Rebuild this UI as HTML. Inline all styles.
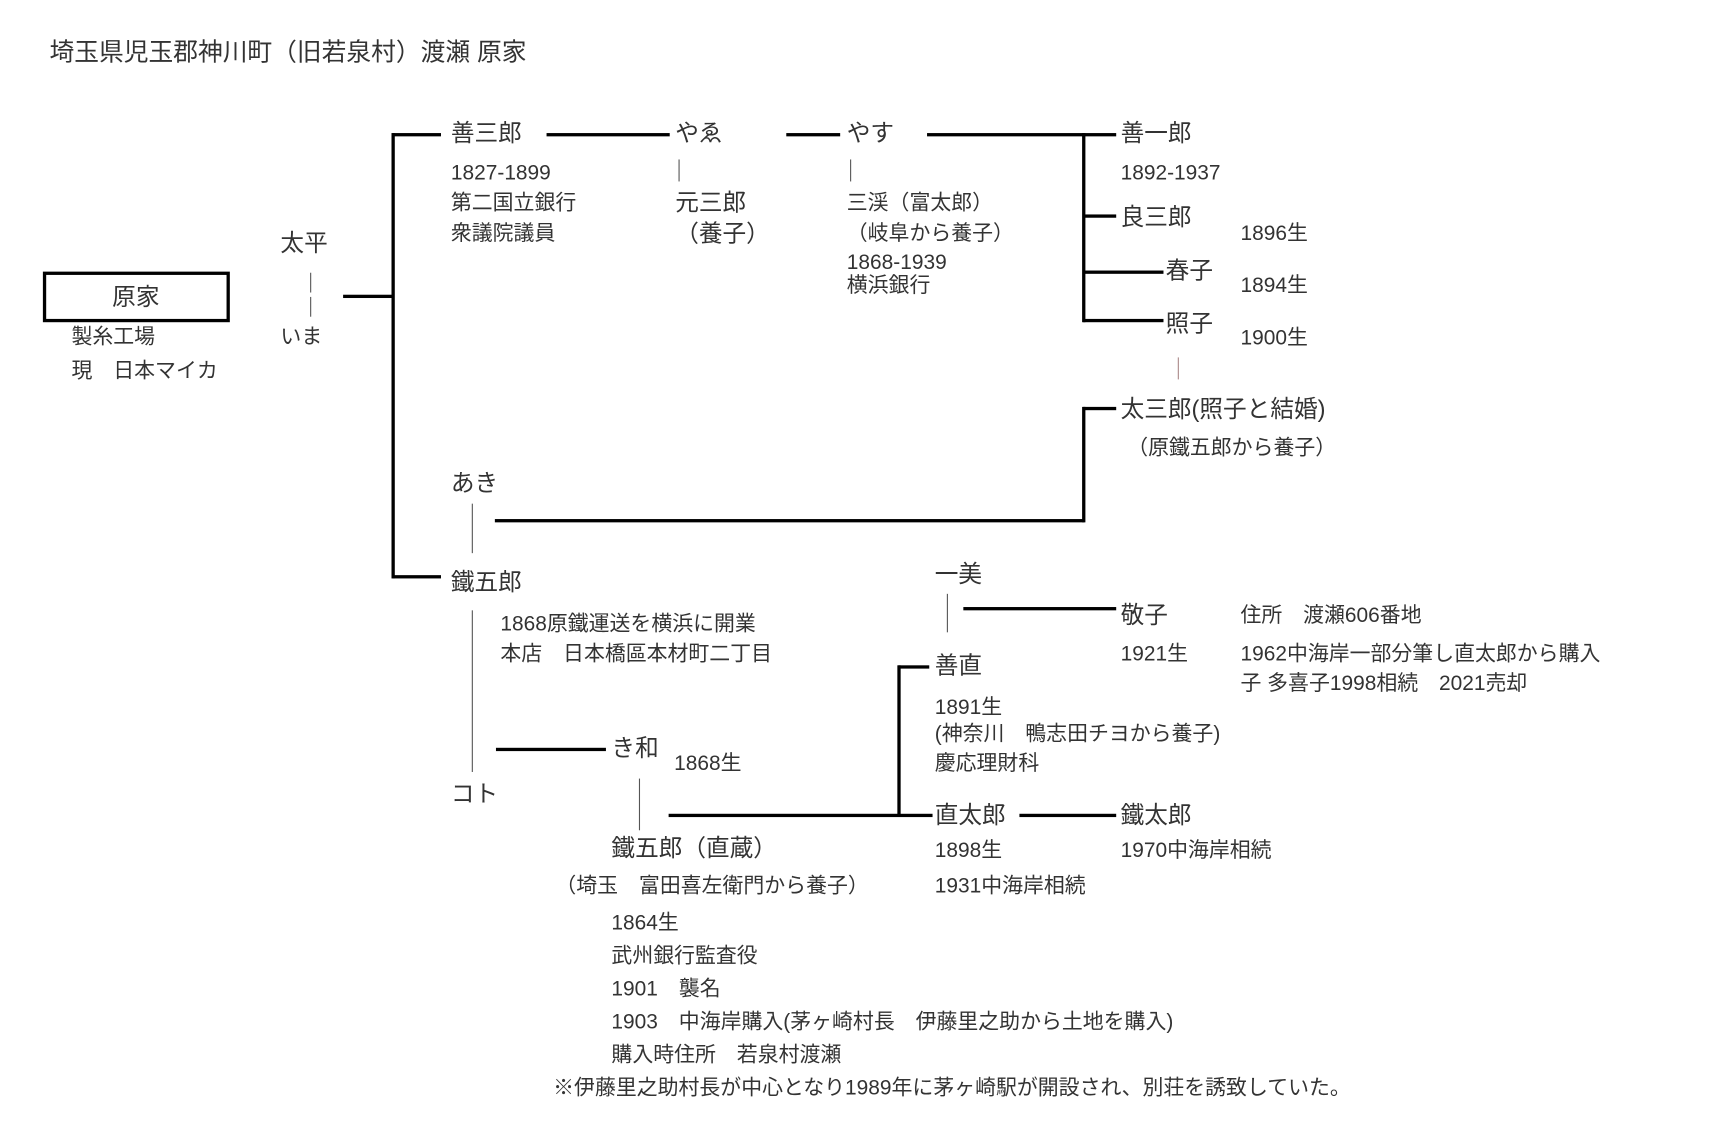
<!DOCTYPE html>
<html><head><meta charset="utf-8"><style>
html,body{margin:0;padding:0;background:#fff;width:1724px;height:1131px;overflow:hidden}
#w{position:absolute;left:0;top:0;width:1570px;height:1030px;transform:scale(1.0997);transform-origin:0 0}
.t{position:absolute;white-space:nowrap;font-family:"Liberation Sans","Noto Sans CJK JP",sans-serif;color:#333;font-size:19px;line-height:1;transform:translateY(-40%)}
.n{font-size:21.5px}
.h{position:absolute;height:3px;background:#000;margin-top:-1.5px}
.v{position:absolute;width:3px;background:#000;margin-left:-1.5px}
.s{position:absolute;width:1px;background:#555}
</style></head><body><div id="w">
<div class="t n" style="left:45px;top:46px;font-size:22.5px">埼玉県児玉郡神川町（旧若泉村）渡瀬 原家</div>
<div style="position:absolute;left:39px;top:247px;width:164px;height:40px;border:3px solid #000"></div>
<div class="t n" style="left:102px;top:269px">原家</div>
<div class="t" style="left:65px;top:305px">製糸工場</div>
<div class="t" style="left:65px;top:336px">現　日本マイカ</div>
<div class="t n" style="left:255px;top:220px">太平</div>
<div class="s" style="left:282px;top:248px;height:18px"></div>
<div class="s" style="left:282px;top:270px;height:18px"></div>
<div class="t" style="left:255px;top:305px">いま</div>
<div class="h" style="left:312px;top:269px;width:46px"></div>
<div class="v" style="left:357px;top:121px;height:405px"></div>
<div class="h" style="left:357px;top:122px;width:44px"></div>
<div class="h" style="left:357px;top:524px;width:44px"></div>
<div class="t n" style="left:410px;top:120px">善三郎</div>
<div class="t" style="left:410px;top:156px">1827-1899</div>
<div class="t" style="left:410px;top:183px">第二国立銀行</div>
<div class="t" style="left:410px;top:211px">衆議院議員</div>
<div class="h" style="left:497px;top:122px;width:112px"></div>
<div class="t n" style="left:614px;top:120px">やゑ</div>
<div class="s" style="left:617px;top:145px;height:20px"></div>
<div class="t n" style="left:614px;top:183px">元三郎</div>
<div class="t n" style="left:614px;top:211px">（養子）</div>
<div class="h" style="left:715px;top:122px;width:49px"></div>
<div class="t n" style="left:770px;top:120px">やす</div>
<div class="s" style="left:773px;top:145px;height:20px"></div>
<div class="t" style="left:770px;top:183px">三渓（富太郎）</div>
<div class="t" style="left:770px;top:211px">（岐阜から養子）</div>
<div class="t" style="left:770px;top:237px">1868-1939</div>
<div class="t" style="left:770px;top:258px">横浜銀行</div>
<div class="h" style="left:843px;top:122px;width:172px"></div>
<div class="v" style="left:985px;top:121px;height:172px"></div>
<div class="h" style="left:985px;top:196px;width:30px"></div>
<div class="h" style="left:985px;top:247px;width:73px"></div>
<div class="h" style="left:985px;top:291px;width:73px"></div>
<div class="t n" style="left:1019px;top:120px">善一郎</div>
<div class="t" style="left:1019px;top:156px">1892-1937</div>
<div class="t n" style="left:1019px;top:196px">良三郎</div>
<div class="t" style="left:1128px;top:211px">1896生</div>
<div class="t n" style="left:1060px;top:245px">春子</div>
<div class="t" style="left:1128px;top:258px">1894生</div>
<div class="t n" style="left:1060px;top:293px">照子</div>
<div class="t" style="left:1128px;top:306px">1900生</div>
<div class="s" style="left:1071px;top:325px;height:20px;background:#a88"></div>
<div class="v" style="left:985px;top:370px;height:105px"></div>
<div class="h" style="left:985px;top:371px;width:30px"></div>
<div class="h" style="left:450px;top:473px;width:536px"></div>
<div class="t n" style="left:1019px;top:371px">太三郎(照子と結婚)</div>
<div class="t" style="left:1025px;top:406px">（原鐵五郎から養子）</div>
<div class="t n" style="left:410px;top:438px">あき</div>
<div class="s" style="left:429px;top:458px;height:45px"></div>
<div class="t n" style="left:410px;top:528px">鐵五郎</div>
<div class="s" style="left:429px;top:555px;height:147px"></div>
<div class="t" style="left:455px;top:566px">1868原鐵運送を横浜に開業</div>
<div class="t" style="left:455px;top:593px">本店　日本橋區本材町二丁目</div>
<div class="h" style="left:451px;top:681px;width:100px"></div>
<div class="t n" style="left:556px;top:679px">き和</div>
<div class="t" style="left:613px;top:693px">1868生</div>
<div class="t n" style="left:410px;top:721px">コト</div>
<div class="s" style="left:581px;top:708px;height:47px"></div>
<div class="h" style="left:608px;top:741px;width:240px"></div>
<div class="v" style="left:817px;top:605px;height:137px"></div>
<div class="h" style="left:817px;top:606px;width:28px"></div>
<div class="t n" style="left:556px;top:770px">鐵五郎（直蔵）</div>
<div class="t" style="left:505px;top:804px">（埼玉　富田喜左衛門から養子）</div>
<div class="t" style="left:556px;top:838px">1864生</div>
<div class="t" style="left:556px;top:868px">武州銀行監査役</div>
<div class="t" style="left:556px;top:898px">1901　襲名</div>
<div class="t" style="left:556px;top:928px">1903　中海岸購入(茅ヶ崎村長　伊藤里之助から土地を購入)</div>
<div class="t" style="left:556px;top:958px">購入時住所　若泉村渡瀬</div>
<div class="t" style="left:503px;top:988px">※伊藤里之助村長が中心となり1989年に茅ヶ崎駅が開設され、別荘を誘致していた。</div>
<div class="t n" style="left:850px;top:521px">一美</div>
<div class="s" style="left:861px;top:540px;height:35px"></div>
<div class="h" style="left:876px;top:553px;width:139px"></div>
<div class="t n" style="left:1019px;top:558px">敬子</div>
<div class="t" style="left:1128px;top:558px">住所　渡瀬606番地</div>
<div class="t" style="left:1019px;top:593px">1921生</div>
<div class="t" style="left:1128px;top:593px">1962中海岸一部分筆し直太郎から購入</div>
<div class="t" style="left:1128px;top:620px">子 多喜子1998相続　2021売却</div>
<div class="t n" style="left:850px;top:604px">善直</div>
<div class="t" style="left:850px;top:642px">1891生</div>
<div class="t" style="left:850px;top:666px">(神奈川　鴨志田チヨから養子)</div>
<div class="t" style="left:850px;top:693px">慶応理財科</div>
<div class="t n" style="left:850px;top:740px">直太郎</div>
<div class="h" style="left:927px;top:741px;width:88px"></div>
<div class="t n" style="left:1019px;top:740px">鐵太郎</div>
<div class="t" style="left:850px;top:772px">1898生</div>
<div class="t" style="left:850px;top:804px">1931中海岸相続</div>
<div class="t" style="left:1019px;top:772px">1970中海岸相続</div>
</div></body></html>
